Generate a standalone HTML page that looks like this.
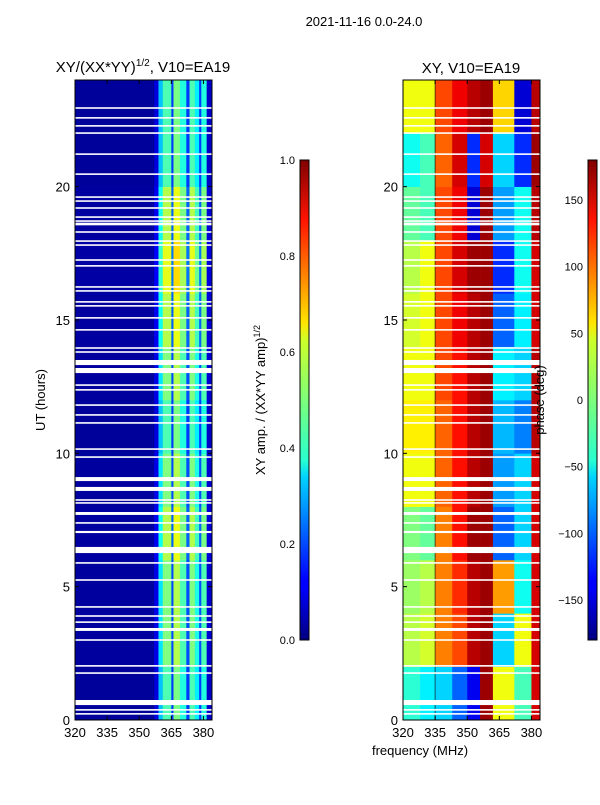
<!DOCTYPE html>
<html><head><meta charset="utf-8">
<style>
body{margin:0;background:#fff;width:600px;height:800px;overflow:hidden;font-family:"Liberation Sans","DejaVu Sans",sans-serif}
svg text{font-family:"Liberation Sans","DejaVu Sans",sans-serif;fill:#000}
</style></head><body>
<svg id="fig" width="600" height="800" xmlns="http://www.w3.org/2000/svg">
<defs>
<linearGradient id="jetg" x1="0" y1="1" x2="0" y2="0">
<stop offset="0" stop-color="#00007f"/><stop offset="0.11" stop-color="#0000ff"/><stop offset="0.125" stop-color="#0000ff"/>
<stop offset="0.34" stop-color="#00d4ff"/><stop offset="0.375" stop-color="#29ffce"/><stop offset="0.5" stop-color="#7dff7a"/>
<stop offset="0.625" stop-color="#ceff29"/><stop offset="0.66" stop-color="#ffe500"/><stop offset="0.875" stop-color="#ff1400"/>
<stop offset="1" stop-color="#7f0000"/></linearGradient>
</defs>
<text x="364" y="26" font-size="13" text-anchor="middle">2021-11-16 0.0-24.0</text>
<text x="143" y="72" font-size="15" text-anchor="middle">XY/(XX*YY)<tspan font-size="10" dy="-6">1/2</tspan><tspan dy="6">, V10=EA19</tspan></text>
<text x="471" y="73" font-size="15" text-anchor="middle">XY, V10=EA19</text>
<text transform="translate(45,400) rotate(-90)" font-size="13" text-anchor="middle">UT (hours)</text>
<text transform="translate(265,400) rotate(-90)" font-size="13" text-anchor="middle">XY amp. / (XX*YY amp)<tspan font-size="9" dy="-5">1/2</tspan></text>
<g id="ampPanel"></g>
<g id="phPanel"></g>
<g id="axes"></g>
<text transform="translate(544,400) rotate(-90)" font-size="13" text-anchor="middle">phase (deg)</text>
<text x="420" y="755" font-size="13" text-anchor="middle">frequency (MHz)</text>
<rect x="300" y="160" width="9" height="480" fill="url(#jetg)" stroke="#000" stroke-width="1"/>
<rect x="588" y="160" width="9" height="480" fill="url(#jetg)" stroke="#000" stroke-width="1"/>
</svg>
<script>
// ---- data ----
const freqEdgesAmp = [320,357,359,361,365,366,369,372,373.5,376,378,379,381.5,384];
const ampProfile   = [0.03,0.1,0.35,0.5,0.2,0.55,0.45,0.2,0.5,0.4,0.2,0.45,0.08];
const timeEdges    = [0,2,4,6,8,10,12,14,16,18,20,22,24];
const ampTimeScale = [0.9,1.0,1.0,1.1,1.0,0.9,1.0,1.1,1.2,1.1,0.9,0.9];
const freqEdgesPh  = [320,328,335,343,350,356,362,372,380,384];
const phaseGrid = [
 [-30,-50,-60,-100,-140,170,40,-20,150],
 [20,30,90,110,160,170,-60,40,150],
 [10,20,90,120,160,170,80,-40,150],
 [0,-10,90,130,170,170,-100,-60,150],
 [40,40,100,130,160,170,-80,-60,150],
 [50,50,100,130,160,170,-70,-90,160],
 [40,40,110,130,160,170,-50,-60,160],
 [30,40,110,140,160,170,-100,-50,150],
 [20,40,110,150,170,170,-120,-40,150],
 [-10,-20,110,140,-150,170,-80,-40,160],
 [-40,-20,100,150,-120,150,-60,-120,170],
 [40,40,110,140,160,170,60,-150,160]];
const gapStart = [22.92,22.55,22.25,21.98,21.19,20.44,19.58,19.43,19.17,18.83,18.68,18.55,18.27,17.93,17.78,17.22,17.0,16.21,16.06,15.65,15.5,15.05,14.6,13.92,13.77,13.31,13.01,12.53,12.35,11.78,11.41,11.11,10.13,9.83,8.96,8.59,8.22,8.11,7.69,7.36,7.01,6.26,5.86,5.22,4.21,3.87,3.64,3.34,2.97,2.0,1.73,0.56,0.35,0.2];
const gapEnd   = [22.98,22.61,22.31,22.04,21.25,20.5,19.64,19.49,19.23,18.89,18.74,18.65,18.33,17.99,17.84,17.28,17.06,16.27,16.12,15.71,15.56,15.11,14.66,13.98,13.83,13.5,13.2,12.59,12.41,11.84,11.47,11.17,10.19,9.89,9.11,8.74,8.28,8.17,7.8,7.42,7.09,6.49,5.92,5.28,4.27,3.93,3.7,3.45,3.03,2.06,1.79,0.75,0.41,0.26];
const yTicks = [0,5,10,15,20];
const xTicks = [320,335,350,365,380];
const ampTicks = [0.0,0.2,0.4,0.6,0.8,1.0];
const phTicks = [-150,-100,-50,0,50,100,150];
// ---- scales ----
const NS="http://www.w3.org/2000/svg";
const Y0=720,Y1=80,F0=320,F1=384;
const yS=h=>Y0-(h/24)*(Y0-Y1);
const xS=(x0,x1)=>f=>x0+(f-F0)/(F1-F0)*(x1-x0);
const xL=xS(75,212), xR=xS(403,540);
function jet(v){v=Math.max(0,Math.min(1,v));
 const r=Math.min(4*v-1.5,-4*v+4.5),g=Math.min(4*v-0.5,-4*v+3.5),b=Math.min(4*v+0.5,-4*v+2.5);
 const c=t=>Math.round(255*Math.max(0,Math.min(1,t)));return `rgb(${c(r)},${c(g)},${c(b)})`;}
function mk(tag,attrs,parent){const e=document.createElementNS(NS,tag);for(const k in attrs)e.setAttribute(k,attrs[k]);parent.appendChild(e);return e;}
const amp=document.getElementById('ampPanel'), ph=document.getElementById('phPanel'), ax=document.getElementById('axes');
for(let t=0;t<timeEdges.length-1;t++){
 for(let i=0;i<ampProfile.length;i++){
  const x0=xL(freqEdgesAmp[i]),x1=xL(freqEdgesAmp[i+1]);
  const r=mk('rect',{x:x0,y:yS(timeEdges[t+1]),width:x1-x0+0.3,height:yS(timeEdges[t])-yS(timeEdges[t+1])+0.3,fill:jet(ampProfile[i]*ampTimeScale[t])},amp);
  
  
 }
 for(let i=0;i<phaseGrid[t].length;i++){
  const x0=xR(freqEdgesPh[i]),x1=xR(freqEdgesPh[i+1]);
  const r=mk('rect',{x:x0,y:yS(timeEdges[t+1]),width:x1-x0+0.3,height:yS(timeEdges[t])-yS(timeEdges[t+1])+0.3,fill:jet((phaseGrid[t][i]+180)/360)},ph);
  
  
 }
}
const dl=mk('line',{x1:xR(335),x2:xR(335),y1:Y1,y2:Y0,stroke:'#000',"stroke-width":1,opacity:0.6},ph);


for(let g=0;g<gapStart.length;g++){
 for(const p of [[75,212,amp],[403,540,ph]]){
  const r=mk('rect',{x:p[0],y:yS(gapEnd[g]),width:p[1]-p[0],height:Math.max(1.2,yS(gapStart[g])-yS(gapEnd[g])),fill:'#fff'},p[2]);
  
  
 }
}
for(const [x0,x1,xs,nm] of [[75,212,xL,'amp'],[403,540,xR,'phase']]){
 const f=mk('rect',{x:x0,y:Y1,width:x1-x0,height:Y0-Y1,fill:'none',stroke:'#000',"stroke-width":1},ax);
 
 
 for(const t of yTicks){
  const y=yS(t);
  mk('line',{x1:x0,x2:x0+4,y1:y,y2:y,stroke:'#000'},ax);
  mk('line',{x1:x1,x2:x1-4,y1:y,y2:y,stroke:'#000'},ax);
  const tx=mk('text',{x:x0-5,y:y+5,"font-size":13,"text-anchor":"end"},ax);
  tx.textContent=t;
  
  
 }
 for(const t of xTicks){
  const x=xs(t);
  mk('line',{x1:x,x2:x,y1:Y0,y2:Y0-4,stroke:'#000'},ax);
  mk('line',{x1:x,x2:x,y1:Y1,y2:Y1+4,stroke:'#000'},ax);
  const tx=mk('text',{x:x,y:Y0+17,"font-size":13,"text-anchor":"middle"},ax);
  tx.textContent=t;
  
  
 }
}
for(const v of ampTicks){
 const y=640-v*480;
 mk('line',{x1:300,x2:309,y1:y,y2:y,stroke:'#000',"stroke-width":0.8},ax);
 const tx=mk('text',{x:295,y:y+4,"font-size":11,"text-anchor":"end"},ax);
 tx.textContent=v.toFixed(1);
 
 
}
for(const v of phTicks){
 const y=640-(v+180)/360*480;
 mk('line',{x1:588,x2:597,y1:y,y2:y,stroke:'#000',"stroke-width":0.8},ax);
 const tx=mk('text',{x:583,y:y+4,"font-size":11,"text-anchor":"end"},ax);
 tx.textContent=v<0?'\u2212'+(-v):v;
 
 
}
</script>
</body></html>
